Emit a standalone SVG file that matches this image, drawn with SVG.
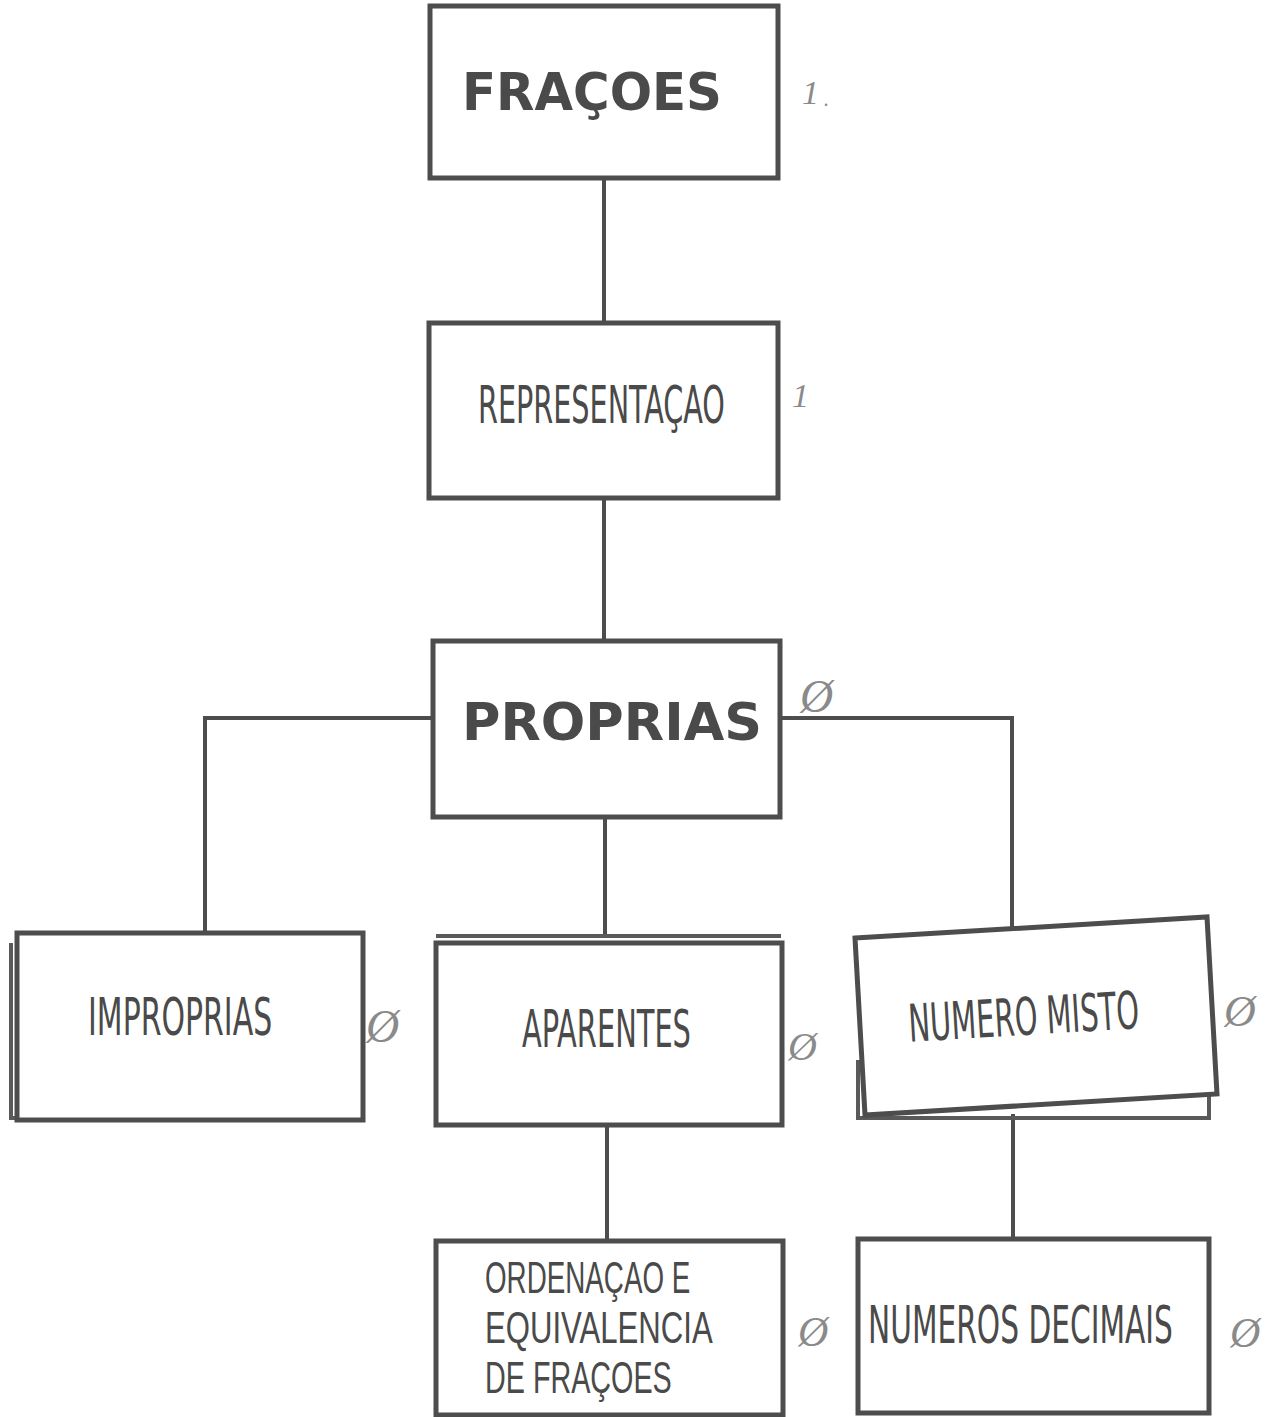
<svg xmlns="http://www.w3.org/2000/svg" width="1271" height="1417" viewBox="0 0 1271 1417">
  <style>
    .box { fill: #ffffff; stroke: #4d4d4d; stroke-width: 5; }
    .shadow { fill: none; stroke: #5a5a5a; stroke-width: 4; }
    .wire { fill: none; stroke: #4d4d4d; stroke-width: 4; }
    .bold { font-family: "DejaVu Sans", "Liberation Sans", sans-serif; font-weight: bold; font-size: 52px; fill: #4a4a4a; }
    .narrow { font-family: "DejaVu Sans Condensed", "DejaVu Sans", "Liberation Sans", sans-serif; font-size: 52px; fill: #4a4a4a; }
    .stack { font-family: "Liberation Sans", sans-serif; font-size: 44px; fill: #4a4a4a; }
    .mark { font-family: "Liberation Serif", "DejaVu Serif", serif; font-style: italic; fill: #8a8a8a; }
  </style>
  <rect width="1271" height="1417" fill="#ffffff"/>

  <!-- connectors -->
  <g id="connectors">
    <line class="wire" x1="604" y1="180" x2="604" y2="323"/>
    <line class="wire" x1="604" y1="498" x2="604" y2="640"/>
    <polyline class="wire" points="433,718 205,718 205,935"/>
    <polyline class="wire" points="780,718 1012,718 1012,929"/>
    <line class="wire" x1="605" y1="817" x2="605" y2="938"/>
    <line class="wire" x1="607" y1="1125" x2="607" y2="1240"/>
    <line class="wire" x1="1013" y1="1114" x2="1013" y2="1238"/>
  </g>

  <!-- FRAÇOES -->
  <g id="node-fracoes">
    <rect class="box" x="430" y="6" width="348" height="172"/>
    <text class="bold" x="462" y="110" textLength="260" lengthAdjust="spacingAndGlyphs">FRAÇOES</text>
    <text class="mark" x="802" y="104" font-size="34">1</text>
    <text class="mark" x="824" y="106" font-size="20">.</text>
  </g>

  <!-- REPRESENTAÇAO -->
  <g id="node-representacao">
    <rect class="box" x="429" y="323" width="349" height="175"/>
    <g transform="translate(478 423) scale(0.66 1)">
      <text class="narrow" x="0" y="0" textLength="374" lengthAdjust="spacingAndGlyphs">REPRESENTAÇAO</text>
    </g>
    <text class="mark" x="792" y="407" font-size="34">1</text>
  </g>

  <!-- PROPRIAS -->
  <g id="node-proprias">
    <rect class="box" x="433" y="641" width="347" height="176"/>
    <text class="bold" x="462" y="740" textLength="300" lengthAdjust="spacingAndGlyphs">PROPRIAS</text>
    <text class="mark" x="800" y="712" font-size="46">Ø</text>
  </g>

  <!-- IMPROPRIAS -->
  <g id="node-improprias">
    <polyline class="shadow" points="11,943 11,1118 360,1118"/>
    <rect class="box" x="17" y="933" width="346" height="187"/>
    <g transform="translate(88 1035) scale(0.66 1)">
      <text class="narrow" x="0" y="0" textLength="279" lengthAdjust="spacingAndGlyphs">IMPROPRIAS</text>
    </g>
    <text class="mark" x="366" y="1042" font-size="46">Ø</text>
  </g>

  <!-- APARENTES -->
  <g id="node-aparentes">
    <line class="shadow" x1="436" y1="936" x2="781" y2="936"/>
    <rect class="box" x="436" y="943" width="346" height="182"/>
    <g transform="translate(522 1047) scale(0.66 1)">
      <text class="narrow" x="0" y="0" textLength="256" lengthAdjust="spacingAndGlyphs">APARENTES</text>
    </g>
    <text class="mark" x="788" y="1060" font-size="40">Ø</text>
  </g>

  <!-- NUMERO MISTO -->
  <g id="node-numero-misto">
    <polyline class="shadow" points="858,1060 858,1118 1209,1118 1209,1094"/>
    <polygon class="box" points="855,938 1207,917 1217,1094 865,1115"/>
    <g transform="rotate(-3.4 1023 1015) translate(908 1035) scale(0.66 1)">
      <text class="narrow" x="0" y="0" textLength="350" lengthAdjust="spacingAndGlyphs">NUMERO MISTO</text>
    </g>
    <text class="mark" x="1224" y="1026" font-size="44">Ø</text>
  </g>

  <!-- ORDENAÇAO E EQUIVALENCIA DE FRAÇOES (three lines) -->
  <g id="node-ordenacao">
    <rect class="box" x="436" y="1241" width="347" height="174"/>
    <g transform="translate(485 0) scale(0.66 1)">
      <text class="stack" x="0" y="1293" textLength="311" lengthAdjust="spacingAndGlyphs">ORDENAÇAO E</text>
      <text class="stack" x="0" y="1343" textLength="345" lengthAdjust="spacingAndGlyphs">EQUIVALENCIA</text>
      <text class="stack" x="0" y="1393" textLength="283" lengthAdjust="spacingAndGlyphs">DE FRAÇOES</text>
    </g>
    <text class="mark" x="798" y="1346" font-size="42">Ø</text>
  </g>

  <!-- NUMEROS DECIMAIS -->
  <g id="node-numeros-decimais">
    <rect class="box" x="858" y="1239" width="351" height="174"/>
    <g transform="translate(868 1343) scale(0.66 1)">
      <text class="narrow" x="0" y="0" textLength="462" lengthAdjust="spacingAndGlyphs">NUMEROS DECIMAIS</text>
    </g>
    <text class="mark" x="1230" y="1347" font-size="42">Ø</text>
  </g>
</svg>
